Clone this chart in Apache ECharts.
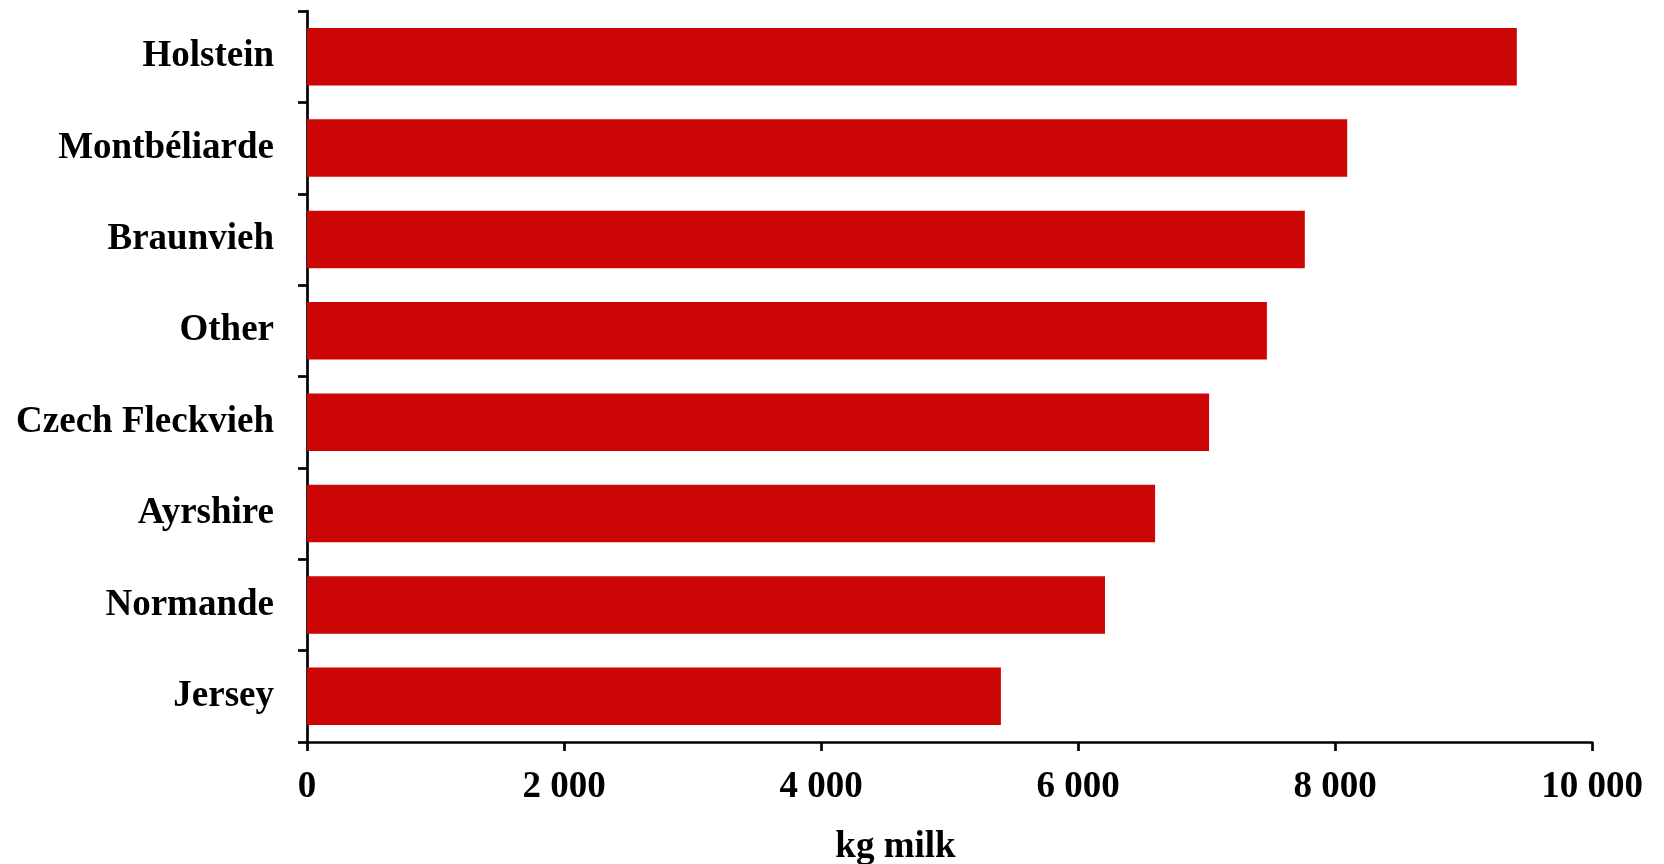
<!DOCTYPE html>
<html><head><meta charset="utf-8">
<script src="https://cdn.jsdelivr.net/npm/echarts@6/dist/echarts.min.js"></script>
<style>html,body{margin:0;padding:0;background:#fff}#c{width:1664px;height:864px}</style>
</head><body><div id="c"></div>
<script>
const categories = ["Jersey","Normande","Ayrshire","Czech Fleckvieh","Other","Braunvieh","Montbéliarde","Holstein"];
const milkKg = [5400, 6210, 6600, 7020, 7470, 7765, 8095, 9415];
const xTicks = {min: 0, max: 10000, interval: 2000};
const font = "'Liberation Serif','Times New Roman',serif";
const chart = echarts.init(document.getElementById('c'));
chart.setOption({
  animation: false,
  grid: {left: 307, right: 72, top: 11, bottom: 122, containLabel: false, outerBoundsMode: 'none'},
  xAxis: {
    type: 'value', min: xTicks.min, max: xTicks.max, interval: xTicks.interval,
    name: 'kg milk', nameLocation: 'middle', nameGap: 87,
    nameTextStyle: {fontFamily: font, fontWeight: 'bold', fontSize: 37, color: '#000', padding: [0, 108, 0, 0]},
    axisLine: {show: true, lineStyle: {color: '#000', width: 2.7}},
    axisTick: {show: true, length: 9, lineStyle: {color: '#000', width: 2.7}},
    splitLine: {show: false},
    axisLabel: {fontFamily: font, fontWeight: 'bold', fontSize: 37, color: '#000', margin: 27,
      formatter: v => String(v).replace(/\B(?=(\d{3})+(?!\d))/g, ' ')}
  },
  yAxis: {
    type: 'category', data: categories,
    axisLine: {show: true, lineStyle: {color: '#000', width: 2.7}},
    axisTick: {show: true, length: 9, lineStyle: {color: '#000', width: 2.7}},
    axisLabel: {fontFamily: font, fontWeight: 'bold', fontSize: 37, color: '#000', margin: 33}
  },
  series: [{
    type: 'bar', data: milkKg, barCategoryGap: '37%',
    itemStyle: {color: '#CC0605'}
  }]
});
</script></body></html>
